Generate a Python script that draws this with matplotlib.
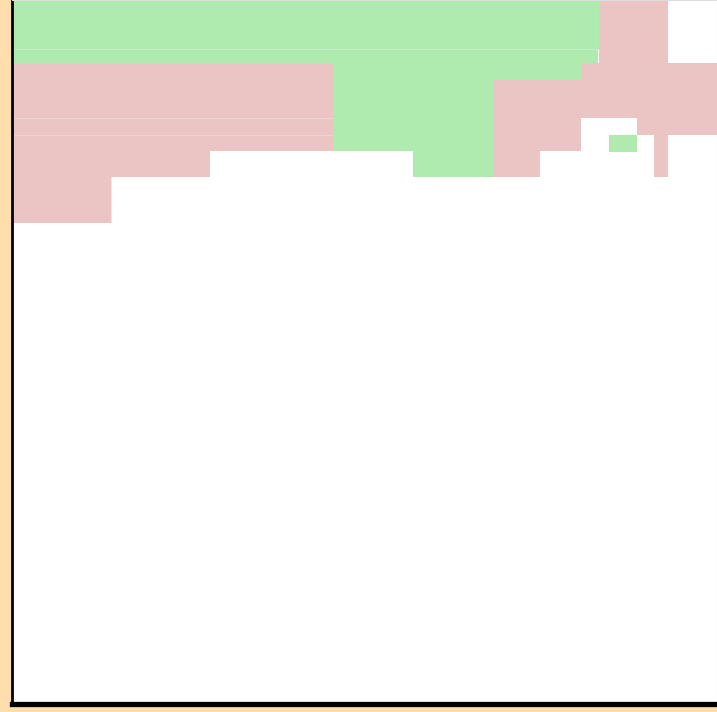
import matplotlib
matplotlib.use("Agg")
import numpy as np
import matplotlib.pyplot as plt

### Blocks (x from left edge of plot area, y from top)
rect_left   = [0, 0, 321, 321, 401, 597,  587, 569, 481, 481, 625, 642,  0,   0,     0,     0,   0,    0,   0]
rect_right  = [587, 586, 569, 481, 481, 625,  656, 705, 569, 528, 705, 656,  321, 321.5, 321, 198, 99.5, 1.5, 1.5]
rect_top    = [0, 49.5, 63, 80, 151, 135,  0, 63, 80, 151, 118, 135,  63, 118.5, 135.5, 151, 177, 63, 121]
rect_bottom = [49.5, 63, 80, 151, 177, 152,  63, 118, 151, 177, 135, 177,  118.5, 135.5, 151, 177, 223, 118, 136]
rect_kind   = ['add']*6 + ['del']*11 + ['mark']*2

x_max= 704.5
y_max= 703.5


def main():
    fig_w, fig_h= 717, 712
    fig= plt.figure(figsize=(fig_w/100, fig_h/100), dpi=100)
    fig.patch.set_facecolor('#FFDEAD')

    ax_l, ax_b= 12, fig_h-y_max
    ax= fig.add_axes([ax_l/fig_w, ax_b/fig_h, x_max/fig_w, y_max/fig_h])
    ax.set_facecolor('white')

    colors= {'add':'#AFEBAF', 'del':'#EBC4C4', 'mark':'#E04848'}
    left= np.array(rect_left, dtype=float)
    right= np.array(rect_right, dtype=float)
    top= np.array(rect_top, dtype=float)
    bot= np.array(rect_bottom, dtype=float)
    cols= [colors[k] for k in rect_kind]
    bars= ax.bar(left, bot-top, width=right-left, bottom=top, align='edge',
                 color=cols, linewidth=0)
    for b in bars:
        b.set_snap(False)   # let the half-pixel seams show

    ax.set_xlim(0, x_max)
    ax.set_ylim(y_max, 0)
    ax.set_xticks([])
    ax.set_yticks([])

    ### Frame: thin grey top/right, heavy black left/bottom
    for s in ['top', 'right']:
        ax.spines[s].set_color('#DDDDDD')
        ax.spines[s].set_linewidth(0.8)
    ax.spines['left'].set_color('black')
    ax.spines['left'].set_linewidth(2.0)
    ax.spines['bottom'].set_color('black')
    ax.spines['bottom'].set_linewidth(3.8)

    fig.savefig('out.png', dpi=100, facecolor=fig.get_facecolor())
    return


if __name__ == "__main__":
    main()
